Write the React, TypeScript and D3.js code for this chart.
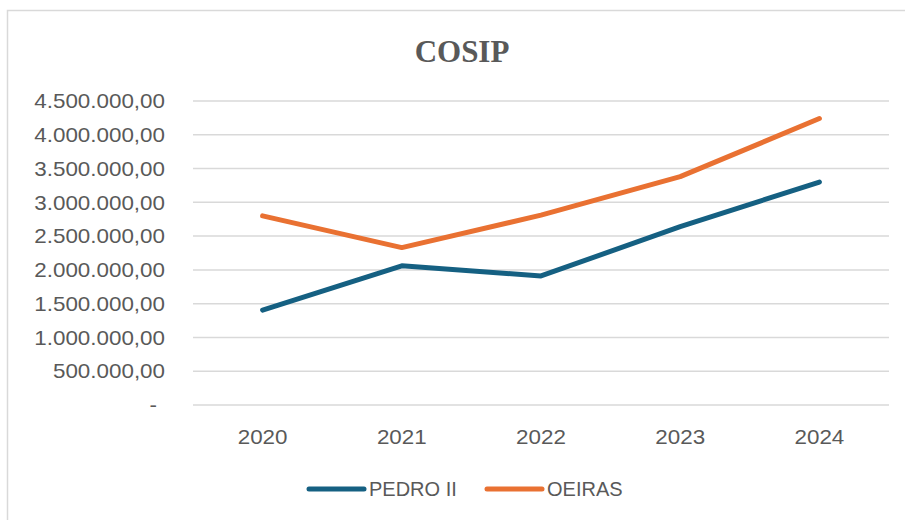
import React, { useRef, useEffect } from "react";
import * as d3 from "d3";

const years = ["2020", "2021", "2022", "2023", "2024"];
const pedroII = [1405000, 2060000, 1910000, 2640000, 3300000];
const oeiras = [2800000, 2330000, 2810000, 3380000, 4240000];
const yTicks = [0, 500000, 1000000, 1500000, 2000000, 2500000, 3000000, 3500000, 4000000, 4500000];

const series = [
  { name: "PEDRO II", values: pedroII, color: "#156082" },
  { name: "OEIRAS", values: oeiras, color: "#E97132" },
];

const fmt = (v: number) => {
  if (v === 0) return "-";
  const s = d3.format(",.2f")(v); // 4,500,000.00
  return s.replace(/,/g, "#").replace(".", ",").replace(/#/g, ".");
};

const App = () => {
  const ref = useRef<HTMLDivElement>(null);

  useEffect(() => {
    const width = 905;
    const height = 520;
    const textColor = "#595959";
    const sx = 1.12; // axis text in the source is a bit wide

    d3.select(ref.current).select("svg").remove();

    const svg = d3
      .select(ref.current)
      .append("svg")
      .attr("width", width)
      .attr("height", height)
      .style("display", "block");

    svg.append("rect").attr("width", width).attr("height", height).attr("fill", "white");

    // chart border (runs off the right and bottom of the picture)
    svg
      .append("rect")
      .attr("x", 7.5)
      .attr("y", 10.5)
      .attr("width", 920)
      .attr("height", 540)
      .attr("fill", "none")
      .attr("stroke", "#d9d9d9")
      .attr("stroke-width", 1.5);

    svg
      .append("text")
      .attr("x", 462)
      .attr("y", 62)
      .attr("text-anchor", "middle")
      .attr("font-family", "'Liberation Serif', 'Times New Roman', serif")
      .attr("font-weight", "bold")
      .attr("font-size", 31)
      .attr("fill", textColor)
      .text("COSIP");

    const x = d3.scaleBand().domain(years).range([193, 889]);
    const y = d3.scaleLinear().domain([0, 4500000]).range([405, 101]);

    const font = "'Liberation Sans', Arial, sans-serif";

    // gridlines
    svg
      .append("g")
      .selectAll("line")
      .data(yTicks)
      .enter()
      .append("line")
      .attr("x1", 193)
      .attr("x2", 889)
      .attr("y1", (d) => y(d))
      .attr("y2", (d) => y(d))
      .attr("stroke", "#d9d9d9")
      .attr("stroke-width", 1.5);

    // y labels
    svg
      .append("g")
      .selectAll("text")
      .data(yTicks)
      .enter()
      .append("text")
      .attr("transform", (d) => `translate(${d === 0 ? 157 : 165},${y(d)}) scale(${sx},1)`)
      .attr("dy", "0.36em")
      .attr("text-anchor", "end")
      .attr("font-family", font)
      .attr("font-size", 20)
      .attr("fill", textColor)
      .text((d) => fmt(d));

    // x labels
    svg
      .append("g")
      .selectAll("text")
      .data(years)
      .enter()
      .append("text")
      .attr("transform", (d) => `translate(${x(d)! + x.bandwidth() / 2},444) scale(${sx},1)`)
      .attr("text-anchor", "middle")
      .attr("font-family", font)
      .attr("font-size", 20)
      .attr("fill", textColor)
      .text((d) => d);

    const line = d3
      .line<number>()
      .x((d, i) => x(years[i])! + x.bandwidth() / 2)
      .y((d) => y(d));

    series.forEach((s) => {
      svg
        .append("path")
        .datum(s.values)
        .attr("fill", "none")
        .attr("stroke", s.color)
        .attr("stroke-width", 5)
        .attr("stroke-linecap", "round")
        .attr("stroke-linejoin", "round")
        .attr("d", line);
    });

    // legend
    const legendX = [309, 487];
    series.forEach((s, i) => {
      const g = svg.append("g").attr("transform", `translate(${legendX[i]},489)`);
      g.append("line")
        .attr("x1", 0)
        .attr("x2", 55)
        .attr("stroke", s.color)
        .attr("stroke-width", 5)
        .attr("stroke-linecap", "round");
      g.append("text")
        .attr("x", 60)
        .attr("dy", "0.36em")
        .attr("font-family", font)
        .attr("font-size", 20)
        .attr("fill", textColor)
        .text(s.name);
    });
  }, []);

  return <div ref={ref} style={{ position: "absolute", left: 0, top: 0 }}></div>;
};

export default App;
